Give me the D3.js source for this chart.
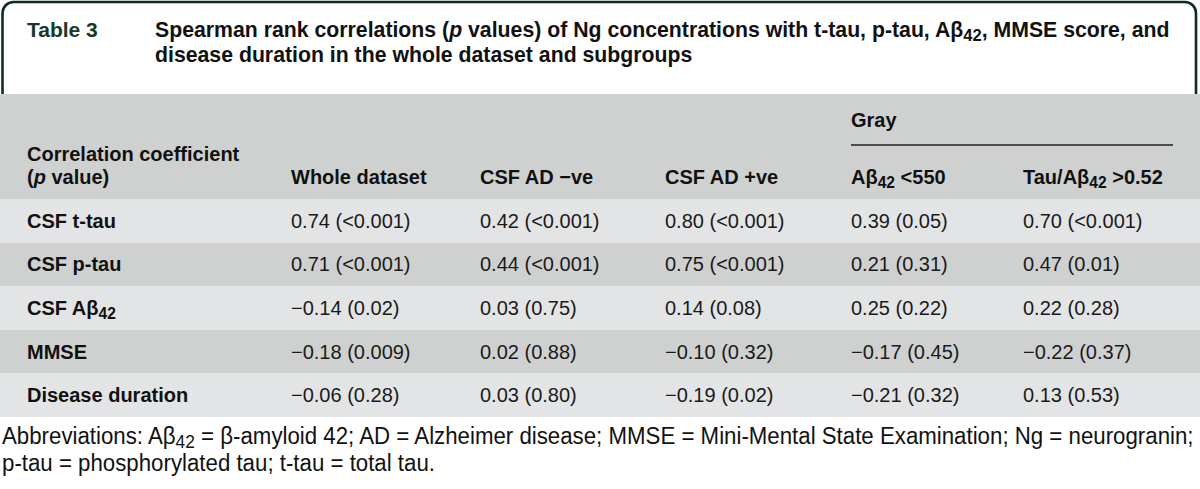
<!DOCTYPE html>
<html>
<head>
<meta charset="utf-8">
<script src="https://cdn.jsdelivr.net/npm/d3@7"></script>
<style>
  html, body { margin: 0; padding: 0; background: #ffffff; }
  svg { display: block; font-family: "Liberation Sans", Arial, sans-serif; }
</style>
</head>
<body>
<svg id="chart" width="1200" height="489"></svg>
<script>
// ---------------- DATA ----------------
const tableNumber = "Table 3";
const titleLines = [
  "Spearman rank correlations (*p* values) of Ng concentrations with t-tau, p-tau, A\u03b2_{42}, MMSE score, and",
  "disease duration in the whole dataset and subgroups"
];
const stubHeader = ["Correlation coefficient", "(*p* value)"];
const groupLabel = "Gray";
const columnHeaders = ["Whole dataset", "CSF AD \u2212ve", "CSF AD +ve", "A\u03b2_{42} <550", "Tau/A\u03b2_{42} >0.52"];
const rowLabels = ["CSF t-tau", "CSF p-tau", "CSF A\u03b2_{42}", "MMSE", "Disease duration"];

const wholeR = [0.74, 0.71, -0.14, -0.18, -0.06];
const wholeP = ["<0.001", "<0.001", "0.02", "0.009", "0.28"];
const adNegR = [0.42, 0.44, 0.03, 0.02, 0.03];
const adNegP = ["<0.001", "<0.001", "0.75", "0.88", "0.80"];
const adPosR = [0.80, 0.75, 0.14, -0.10, -0.19];
const adPosP = ["<0.001", "<0.001", "0.08", "0.32", "0.02"];
const grayAbR = [0.39, 0.21, 0.25, -0.17, -0.21];
const grayAbP = ["0.05", "0.31", "0.22", "0.45", "0.32"];
const grayTauR = [0.70, 0.47, 0.22, -0.22, 0.13];
const grayTauP = ["<0.001", "0.01", "0.28", "0.37", "0.53"];

const footnoteLines = [
  "Abbreviations: A\u03b2_{42} = \u03b2-amyloid 42; AD = Alzheimer disease; MMSE = Mini-Mental State Examination; Ng = neurogranin;",
  "p-tau = phosphorylated tau; t-tau = total tau."
];

// ---------------- LAYOUT ----------------
const W = 1200;
const svg = d3.select("#chart");
const green = "#0e2e1d";
const headerGray = "#cfd1d0";
const rowColors = ["#e3e4e5", "#cfd1d0"];
const fs = 20;

// rich text helper: *italic*, _{sub}
function rich(textSel, str) {
  const parts = str.split(/(_\{[^}]+\}|\*[^*]+\*)/).filter(s => s.length);
  let shifted = false;
  parts.forEach(p => {
    if (p.startsWith("_{")) {
      textSel.append("tspan").attr("dy", "0.25em").attr("font-size", "0.78em").text(p.slice(2, -1));
      shifted = true;
    } else if (p.startsWith("*")) {
      const t = textSel.append("tspan").attr("font-style", "italic").text(p.slice(1, -1));
      if (shifted) { t.attr("dy", "-0.195em"); shifted = false; }
    } else {
      const t = textSel.append("tspan").text(p);
      if (shifted) { t.attr("dy", "-0.195em"); shifted = false; }
    }
  });
  return textSel;
}

// Title box
svg.append("path")
  .attr("d", `M2.5,95 V13 A11,11 0 0 1 13.5,2 H${W - 15} A11,11 0 0 1 ${W - 4},13 V95`)
  .attr("fill", "none").attr("stroke", green).attr("stroke-width", 2.6);

svg.append("text").attr("x", 27).attr("y", 37)
  .attr("font-size", 21).attr("font-weight", "bold").attr("fill", "#17382a")
  .text(tableNumber);

const titleG = svg.append("g");
const titleTexts = titleLines.map((line, i) => {
  const t = titleG.append("text").attr("y", 37 + i * 25)
    .attr("font-size", 22).attr("font-weight", "bold").attr("fill", "#111");
  return rich(t, line);
});
const t1w = titleTexts[0].node().getComputedTextLength();
const titleScale = (1170 - 155) / t1w;
titleTexts.forEach(t => t.attr("transform", `translate(155,0) scale(${titleScale},1)`));

// Header gray block
const headerTop = 94, headerBottom = 199, tableBottom = 417;
svg.append("rect").attr("x", 0).attr("y", headerTop).attr("width", W)
  .attr("height", headerBottom - headerTop).attr("fill", headerGray);

// Rows
const y = d3.scaleBand().domain(rowLabels).range([headerBottom, tableBottom]);
const colKeys = d3.range(columnHeaders.length);
const x = d3.scaleOrdinal().domain(colKeys).range([291, 480, 665, 851, 1023]);
const labelX = 27;

svg.selectAll("rect.row").data(rowLabels).join("rect")
  .attr("class", "row")
  .attr("x", 0).attr("y", d => y(d)).attr("width", W).attr("height", y.bandwidth())
  .attr("fill", (d, i) => rowColors[i % 2]);

// Header texts
svg.append("text").attr("x", labelX).attr("y", 161).attr("font-size", fs).attr("font-weight", "bold").attr("fill", "#111")
  .call(s => rich(s, stubHeader[0]));
svg.append("text").attr("x", labelX).attr("y", 184).attr("font-size", fs).attr("font-weight", "bold").attr("fill", "#111")
  .call(s => rich(s, stubHeader[1]));

svg.append("text").attr("x", x(3)).attr("y", 127).attr("font-size", fs).attr("font-weight", "bold").attr("fill", "#111")
  .text(groupLabel);
svg.append("line").attr("x1", x(3)).attr("x2", 1173).attr("y1", 145).attr("y2", 145)
  .attr("stroke", "#222").attr("stroke-width", 1.6);

svg.selectAll("text.colhead").data(colKeys).join("text")
  .attr("class", "colhead")
  .attr("x", d => x(d)).attr("y", 184)
  .attr("font-size", fs).attr("font-weight", "bold").attr("fill", "#111")
  .each(function (d) { rich(d3.select(this), columnHeaders[d]); });

// Row labels
const baseOff = y.bandwidth() / 2 + 7;
svg.selectAll("text.rowlab").data(rowLabels).join("text")
  .attr("class", "rowlab")
  .attr("x", labelX).attr("y", d => y(d) + baseOff)
  .attr("font-size", fs).attr("font-weight", "bold").attr("fill", "#111")
  .each(function (d) { rich(d3.select(this), d); });

// Cells
const fmt = r => r.toFixed(2).replace("-", "\u2212");
const seriesR = [wholeR, adNegR, adPosR, grayAbR, grayTauR];
const seriesP = [wholeP, adNegP, adPosP, grayAbP, grayTauP];
const cells = [];
colKeys.forEach(c => rowLabels.forEach((rl, ri) => {
  cells.push({ col: c, row: rl, text: `${fmt(seriesR[c][ri])} (${seriesP[c][ri]})` });
}));
svg.selectAll("text.cell").data(cells).join("text")
  .attr("class", "cell")
  .attr("x", d => x(d.col)).attr("y", d => y(d.row) + baseOff)
  .attr("font-size", fs).attr("fill", "#1a1a1a")
  .text(d => d.text);

// Footnote
const footTexts = footnoteLines.map((line, i) => {
  const t = svg.append("text").attr("y", 444 + i * 27)
    .attr("font-size", 23).attr("fill", "#111");
  return rich(t, line);
});
const f1w = footTexts[0].node().getComputedTextLength();
const footScale = (1194 - 2) / f1w;
footTexts.forEach(t => t.attr("transform", `translate(2,0) scale(${footScale},1)`));
</script>
</body>
</html>
